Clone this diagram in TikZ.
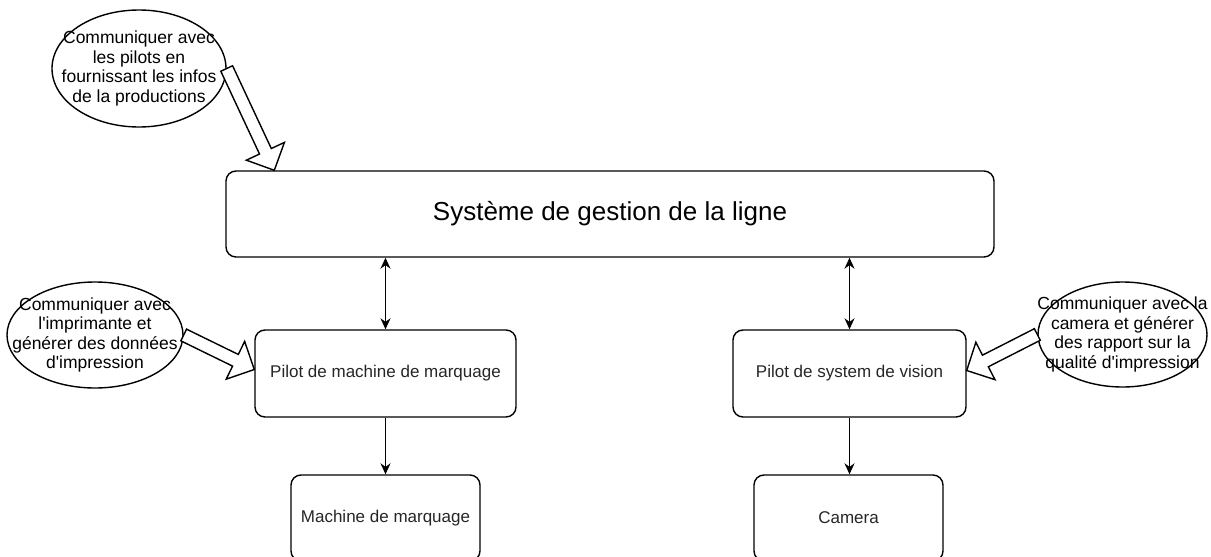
\documentclass[tikz,border=0pt]{standalone}
\usepackage{fontspec}
\setmainfont{Liberation Sans}
\usetikzlibrary{shapes.geometric,arrows.meta,calc}

% fleche creuse (contour) de #1 vers #2
\newcommand{\grossefleche}[2]{%
	\draw[fleche creuse] ($(#1)!6.5pt!90:(#2)$) -- ($(#2)!21pt!(#1)!6.5pt!-90:(#1)$)
		-- ($(#2)!21pt!(#1)!21pt!-90:(#1)$) -- (#2) -- ($(#2)!21pt!(#1)!21pt!90:(#1)$)
		-- ($(#2)!21pt!(#1)!6.5pt!90:(#1)$) -- ($(#1)!6.5pt!-90:(#2)$) -- cycle;}

\begin{document}
\begin{tikzpicture}[x=1pt,y=-1pt,
	boite/.style={draw,rounded corners=10pt,line width=1.4pt,inner sep=0pt,font=\fontsize{17}{20}\selectfont,text=black!85},
	bulle/.style={draw,ellipse,line width=1.4pt,align=center,inner xsep=-30pt,inner ysep=-12pt,font=\fontsize{17.5}{19.5}\selectfont},
	lien/.style={line width=1.4pt,-{Stealth[length=11pt,width=10pt]}},
	lien double/.style={line width=1.4pt,{Stealth[length=11pt,width=10pt]}-{Stealth[length=11pt,width=10pt]}},
	fleche creuse/.style={line width=1.4pt,fill=white}]
	\useasboundingbox (0,0) rectangle (1211,557);
	\clip (0,0) rectangle (1211,557);

	\node[boite,minimum width=768pt,minimum height=86pt,font=\fontsize{26}{30}\selectfont,text=black] (gestion) at (610,214) {Système de gestion de la ligne};
	\node[boite,minimum width=261pt,minimum height=87pt] (pilotM) at (385.5,373.5) {Pilot de machine de marquage};
	\node[boite,minimum width=233pt,minimum height=87pt] (pilotV) at (849.5,373.5) {Pilot de system de vision};
	\node[boite,minimum width=189pt,minimum height=86pt] (machine) at (385.5,518) {Machine de marquage};
	\node[boite,minimum width=189pt,minimum height=86pt] (camera) at (848.5,518) {Camera};

	\node[bulle,minimum width=174pt,minimum height=117pt] (bulleA) at (139,68.5) {Communiquer avec\\les pilots en\\fournissant les infos\\de la productions};
	\node[bulle,minimum width=176pt,minimum height=106pt] (bulleB) at (95,335) {Communiquer avec\\l\textquotesingle imprimante et\\générer des données\\d\textquotesingle impression};
	\node[bulle,minimum width=169pt,minimum height=105pt] (bulleC) at (1122.5,334.5) {Communiquer avec la\\camera et générer\\des rapport sur la\\qualité d\textquotesingle impression};

	\draw[lien double] (pilotM.north |- gestion.south) -- (pilotM.north);
	\draw[lien double] (pilotV.north |- gestion.south) -- (pilotV.north);
	\draw[lien] (pilotM.south) -- (machine.north);
	\draw[lien] (pilotV.south) -- (pilotV.south |- camera.north);

	\coordinate (pointeA) at ($(gestion.north west)+(49,0)$);
	\coordinate (pointeB) at ($(pilotM.west)+(0,-4)$);
	\coordinate (pointeC) at ($(pilotV.east)+(0,-3)$);
	\grossefleche{bulleA.east}{pointeA}
	\grossefleche{bulleB.east}{pointeB}
	\grossefleche{bulleC.west}{pointeC}
\end{tikzpicture}
\end{document}
